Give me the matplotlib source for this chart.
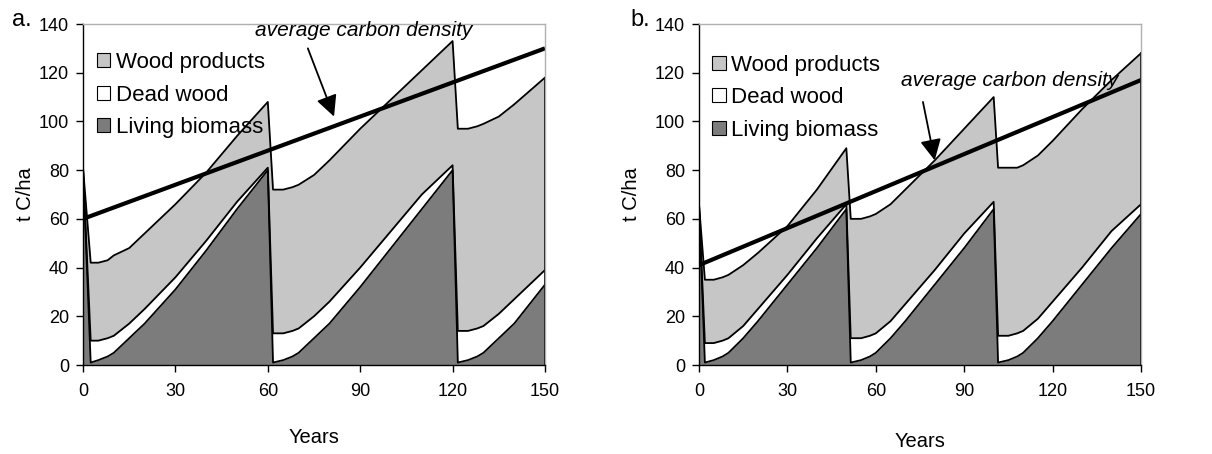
import numpy as np
import matplotlib.pyplot as plt
from matplotlib.patches import Patch

plt.rcParams['font.family'] = ['Liberation Sans', 'DejaVu Sans']

# Panel a: 60-year rotation (t C/ha)
years_a = [0, 2.5, 5, 8, 10, 15, 20, 30, 40, 50, 60, 61.7, 65, 68, 70, 75, 80, 90, 100, 110, 120,
           121.7, 125, 128, 130, 135, 140, 150]
living_a = [81, 1, 2, 3.5, 5, 11, 17, 31, 47, 64, 80, 1, 2, 3.5, 5, 11, 17, 32, 48, 64, 80,
            1, 2, 3.5, 5, 11, 17, 33]
dead_a = [0, 9, 8, 7.5, 7, 6, 6, 5, 4, 3, 1, 12, 11, 10.5, 10, 9, 9, 8, 7, 6, 2,
          13, 12, 11.5, 11, 10, 10, 6]
products_a = [0, 32, 32, 32, 33, 31, 31, 30, 28, 27, 27, 59, 59, 59, 59, 58, 58, 57, 54, 51, 51,
              83, 83, 83, 83, 81, 80, 79]
avg_a = [60, 130]

# Panel b: 50-year rotation (t C/ha)
years_b = [0, 2, 5, 8, 10, 15, 20, 30, 40, 50, 51.5, 55, 58, 60, 65, 70, 80, 90, 100,
           101.5, 105, 108, 110, 115, 120, 130, 140, 150]
living_b = [66, 1, 2, 3.5, 5, 11, 18, 33, 48, 64, 1, 2, 3.5, 5, 11, 18, 33, 48, 64,
            1, 2, 3.5, 5, 11, 18, 33, 48, 62]
dead_b = [0, 8, 7, 6.5, 6, 5, 5, 4, 4, 2, 10, 9, 8.5, 8, 7, 7, 6, 6, 3,
          11, 10, 9.5, 9, 8, 8, 7, 7, 4]
products_b = [0, 26, 26, 26, 26, 25, 23, 20, 20, 23, 49, 49, 49, 49, 48, 47, 45, 43, 43,
              69, 69, 68, 68, 67, 66, 65, 62, 62]
avg_b = [41, 117]

xticks = [0, 30, 60, 90, 120, 150]
yticks = [0, 20, 40, 60, 80, 100, 120, 140]

LIVING = '#7c7c7c'
PRODUCTS = '#c6c6c6'


def draw_panel(ax, years, living, dead, products, avg, text_xy, arrow_from, arrow_to,
               ylabelpad, xlabelpad, legend_y):
    t = np.array(years)
    l_top = np.array(living)
    d_top = l_top + np.array(dead)
    total = d_top + np.array(products)

    ax.fill_between(t, 0, l_top, color=LIVING, lw=0)
    ax.fill_between(t, l_top, d_top, color='white', lw=0)
    ax.fill_between(t, d_top, total, color=PRODUCTS, lw=0)
    for top in (l_top, d_top, total):
        ax.plot(t, top, color='black', lw=1.3)
    ax.plot([t[-1], t[-1]], [0, total[-1]], color='black', lw=1.3)

    ax.plot([0, 150], avg, color='black', lw=3, solid_capstyle='butt')
    ax.annotate('', xy=arrow_to, xytext=arrow_from,
                arrowprops=dict(arrowstyle='-|>,head_length=0.4,head_width=0.2',
                                mutation_scale=32, lw=1.3, color='black',
                                shrinkA=0, shrinkB=0))
    ax.text(text_xy[0], text_xy[1], 'average carbon density', style='italic',
            fontsize=15, ha='center', va='center')

    ax.set_xlim(0, 150)
    ax.set_ylim(0, 140)
    ax.set_xticks(xticks)
    ax.set_yticks(yticks)
    ax.tick_params(direction='out', length=5, width=1, labelsize=13)
    ax.tick_params(axis='x', pad=8)
    ax.tick_params(axis='y', pad=5)
    for side in ('left', 'bottom'):
        ax.spines[side].set_color('black')
        ax.spines[side].set_linewidth(1)
    for side in ('top', 'right'):
        ax.spines[side].set_color('#b0b0b0')
        ax.spines[side].set_linewidth(1)
    ax.set_xlabel('Years', fontsize=14.5, labelpad=xlabelpad)
    ax.set_ylabel('t C/ha', fontsize=14.5, labelpad=ylabelpad)

    handles = [Patch(facecolor=PRODUCTS, edgecolor='black', lw=0.8),
               Patch(facecolor='white', edgecolor='black', lw=0.8),
               Patch(facecolor=LIVING, edgecolor='black', lw=0.8)]
    ax.legend(handles, ['Wood products', 'Dead wood', 'Living biomass'],
              loc='upper left', bbox_to_anchor=(0.03, legend_y), frameon=False,
              fontsize=16, handlelength=0.6, handleheight=0.6,
              handletextpad=0.25, labelspacing=0.52, borderpad=0, borderaxespad=0)


fig = plt.figure(figsize=(12.12, 4.54), dpi=100)
ax_a = fig.add_axes([83 / 1212, 89 / 454, 462 / 1212, 341 / 454])
ax_b = fig.add_axes([699 / 1212, 89 / 454, 442 / 1212, 341 / 454])

draw_panel(ax_a, years_a, living_a, dead_a, products_a, avg_a,
           (91, 137.5), (73, 130), (81.5, 102), 3, 20, 0.918)
draw_panel(ax_b, years_b, living_b, dead_b, products_b, avg_b,
           (105.5, 117), (76, 108), (80, 84), 10, 23, 0.91)

fig.text(12 / 1212, 1 - 20 / 454, 'a.', fontsize=17, va='center', ha='left')
fig.text(630 / 1212, 1 - 20 / 454, 'b.', fontsize=17, va='center', ha='left')

fig.savefig('out.png', dpi=100)
